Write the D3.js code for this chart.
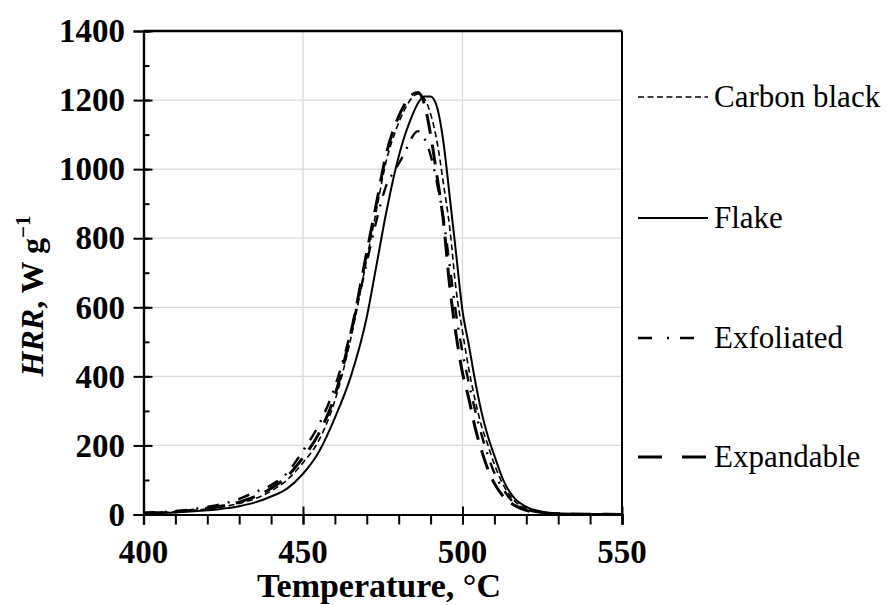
<!DOCTYPE html>
<html>
<head>
<meta charset="utf-8">
<script src="https://cdn.jsdelivr.net/npm/d3@7"></script>
<style>
  body { margin: 0; background: #fff; }
  svg { display: block; }
  svg text { font-family: "Liberation Serif", "DejaVu Serif", serif; }
</style>
</head>
<body>
<svg id="chart" width="889" height="605"></svg>
<script>
// temperatures (°C) shared by all series
const temps = [400, 410, 420, 430, 435, 440, 445, 450, 455, 460, 465, 470, 473, 476, 479, 482, 484, 486, 488,
               490, 492, 494, 496, 498, 500, 502, 504, 506, 508, 510, 513, 516, 520, 525, 530, 540, 550];

// HRR, W/g
const carbonBlack = [4, 8, 16, 32, 46, 68, 100, 150, 215, 330, 510, 740, 880, 1020, 1110, 1175, 1205, 1218, 1205,
                     1160, 1080, 960, 830, 650, 530, 420, 330, 255, 200, 145, 82, 42, 18, 6, 2, 1, 0];
const flake = [3, 6, 12, 24, 35, 52, 75, 118, 182, 280, 400, 572, 720, 870, 1000, 1100, 1150, 1190, 1210,
               1210, 1180, 1080, 920, 755, 590, 490, 385, 295, 225, 170, 95, 50, 22, 8, 3, 1, 0];
const exfoliated = [5, 10, 22, 45, 65, 85, 120, 185, 260, 370, 530, 730, 850, 950, 1000, 1050, 1090, 1110, 1090,
                    1040, 960, 860, 720, 580, 470, 380, 300, 230, 170, 120, 70, 35, 15, 5, 2, 1, 0];
const expandable = [4, 8, 18, 36, 52, 76, 110, 165, 235, 345, 525, 760, 900, 1040, 1130, 1190, 1215, 1222, 1190,
                    1100, 980, 850, 660, 520, 410, 335, 250, 185, 130, 90, 50, 28, 12, 4, 2, 1, 0];

const seriesNames = ["Carbon black", "Flake", "Exfoliated", "Expandable"];
const xTicks = [400, 450, 500, 550];
const yTicks = [0, 200, 400, 600, 800, 1000, 1200, 1400];

const styles = {
  "Carbon black": { width: 1.6, dash: "6,3.5" },
  "Flake":        { width: 2,   dash: null },
  "Exfoliated":   { width: 2.4, dash: "12,9,2,9" },
  "Expandable":   { width: 3,   dash: "20,11" }
};

const series = [
  { name: "Carbon black", values: carbonBlack },
  { name: "Flake", values: flake },
  { name: "Exfoliated", values: exfoliated },
  { name: "Expandable", values: expandable }
];

const svg = d3.select("#chart");
const pLeft = 143.5, pRight = 622, pTop = 31, pBottom = 514.5;

const x = d3.scaleLinear().domain([400, 550]).range([pLeft, pRight]);
const y = d3.scaleLinear().domain([0, 1400]).range([pBottom, pTop]);

// grid
const grid = svg.append("g").attr("stroke", "#d9d9d9").attr("stroke-width", 1.3);
grid.selectAll("line.gx").data(xTicks.slice(1, -1)).enter().append("line")
  .attr("x1", d => x(d)).attr("x2", d => x(d)).attr("y1", pTop).attr("y2", pBottom);
grid.selectAll("line.gy").data(yTicks.slice(1, -1)).enter().append("line")
  .attr("y1", d => y(d)).attr("y2", d => y(d)).attr("x1", pLeft).attr("x2", pRight);

// curves
const line = d3.line()
  .x((d, i) => x(temps[i]))
  .y(d => y(d))
  .curve(d3.curveMonotoneX);

svg.append("g").selectAll("path").data(series).enter().append("path")
  .attr("d", d => line(d.values))
  .attr("fill", "none")
  .attr("stroke", "#000")
  .attr("stroke-width", d => styles[d.name].width)
  .attr("stroke-dasharray", d => styles[d.name].dash);

// frame
svg.append("line").attr("x1", pLeft).attr("x2", pRight).attr("y1", pTop).attr("y2", pTop)
  .attr("stroke", "#000").attr("stroke-width", 2.5);
svg.append("line").attr("x1", pRight).attr("x2", pRight).attr("y1", pTop).attr("y2", pBottom)
  .attr("stroke", "#000").attr("stroke-width", 2);

// x axis
const xAxis = svg.append("g").attr("transform", "translate(0," + pBottom + ")");
xAxis.call(d3.axisBottom(x).tickValues(d3.range(400, 551, 10)).tickSize(10).tickFormat(""));
xAxis.append("g").call(d3.axisBottom(x).tickValues(xTicks).tickSize(10).tickFormat(""))
  .call(g => g.selectAll(".tick line").attr("y1", -8));
xAxis.selectAll("path.domain").attr("stroke-width", 2.2);
xAxis.selectAll(".tick line").attr("stroke-width", 2);
xAxis.select("g").selectAll("path.domain").remove();

svg.append("g").selectAll("text").data(xTicks).enter().append("text")
  .attr("x", d => x(d)).attr("y", 563)
  .attr("text-anchor", "middle")
  .attr("font-size", 33).attr("font-weight", "bold")
  .text(d => d);

// y axis
const yAxis = svg.append("g").attr("transform", "translate(" + pLeft + ",0)");
yAxis.call(d3.axisLeft(y).tickValues(d3.range(0, 1401, 100)).tickSize(-6).tickFormat(""));
yAxis.append("g").call(d3.axisLeft(y).tickValues(yTicks).tickSize(10).tickFormat(""))
  .call(g => g.selectAll(".tick line").attr("x1", 9));
yAxis.selectAll("path.domain").attr("stroke-width", 2.2);
yAxis.selectAll(".tick line").attr("stroke-width", 2);
yAxis.select("g").selectAll("path.domain").remove();

svg.append("g").selectAll("text").data(yTicks).enter().append("text")
  .attr("x", 125).attr("y", d => y(d)).attr("dy", "0.34em")
  .attr("text-anchor", "end")
  .attr("font-size", 33).attr("font-weight", "bold")
  .text(d => d);

// axis titles
svg.append("text")
  .attr("x", 379).attr("y", 597)
  .attr("text-anchor", "middle")
  .attr("font-size", 34).attr("font-weight", "bold")
  .text("Temperature, °C");

const yTitle = svg.append("text")
  .attr("transform", "translate(43,296) rotate(-90)")
  .attr("text-anchor", "middle")
  .attr("font-size", 32).attr("font-weight", "bold");
yTitle.append("tspan").attr("font-style", "italic").text("HRR");
yTitle.append("tspan").text(", W g");
yTitle.append("tspan").attr("font-size", 21).attr("dy", -13).text("−1");

// legend
const legendY = [97, 218, 338, 457];
const legend = svg.append("g").selectAll("g").data(seriesNames).enter().append("g")
  .attr("transform", (d, i) => "translate(0," + legendY[i] + ")");
legend.append("line")
  .attr("x1", 638).attr("x2", d => d === "Exfoliated" ? 697 : 708)
  .attr("y1", 0).attr("y2", 0)
  .attr("stroke", "#000")
  .attr("stroke-width", d => styles[d].width)
  .attr("stroke-dasharray", d => d === "Exfoliated" ? "14,15,2,11" : d === "Expandable" ? "24,20" : styles[d].dash);
legend.append("text")
  .attr("x", 714).attr("y", 0).attr("dy", "0.32em")
  .style("font-family", "'Liberation Serif', 'DejaVu Serif', serif")
  .style("font-weight", "normal")
  .attr("font-size", 31)
  .text(d => d);
</script>
</body>
</html>
